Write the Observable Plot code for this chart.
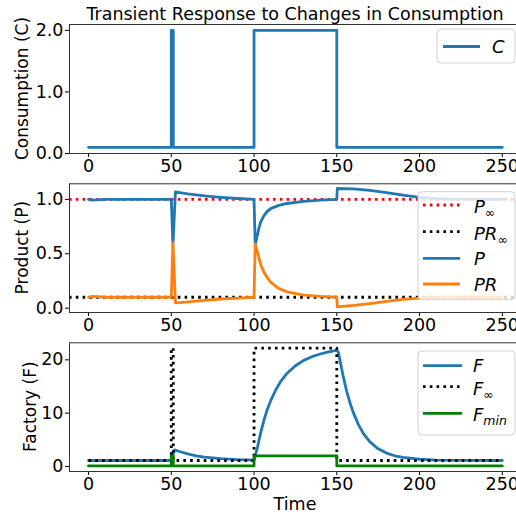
<!DOCTYPE html>
<html><head><meta charset="utf-8">
<script src="https://cdn.jsdelivr.net/npm/d3@7"></script>
<script src="https://cdn.jsdelivr.net/npm/@observablehq/plot@0.6"></script>
<style>
html,body{margin:0;padding:0;background:#fff;overflow:hidden;}
#chart{position:relative;width:516px;height:516px;overflow:hidden;background:#fff;}
#chart svg{position:absolute;left:0;}
</style></head><body><div id="chart"></div>
<script>
const titleText = "Transient Response to Changes in Consumption";
const xTicks = [0, 50, 100, 150, 200, 250];
const xLabel = "Time";
const yLabels = ["Consumption (C)", "Product (P)", "Factory (F)"];

// step inputs
const stepT = [0, 50, 51.2, 100, 150, 250];
const cValues = [0.1, 2.0, 0.1, 2.0, 0.1, 0.1];
const fInfValues = [1.11, 22.2, 1.11, 22.2, 1.11, 1.11];
const fMinValues = [0.1, 2.0, 0.1, 2.0, 0.1, 0.1];

// steady-state product levels
const pInf = 1.0;
const prInf = 0.1;

// product response
const tP = [0,2,5,10,50,51,52.5,55,60,70,80,90,100,100.7,102,103,104,106,108,110,115,120,130,140,150,150.3,160,170,180,190,200,210,220,250];
const pValues = [1.0,0.993,0.995,1.0,1.0,0.58,1.068,1.062,1.05,1.033,1.019,1.008,1.0,0.58,0.67,0.74,0.79,0.85,0.89,0.915,0.945,0.962,0.982,0.993,1.0,1.1,1.096,1.083,1.062,1.038,1.018,1.007,1.002,1.0];
const prValues = [0.1,0.107,0.105,0.1,0.1,0.6,0.048,0.05,0.058,0.072,0.084,0.093,0.1,0.59,0.52,0.46,0.40,0.33,0.28,0.24,0.18,0.15,0.12,0.108,0.1,0.012,0.025,0.042,0.062,0.08,0.093,0.099,0.1,0.1];

// factory response
const tF = [0,50,51,52,55,60,65,70,80,90,100,102,104,106,108,110,113,116,120,125,130,135,140,145,150,151,152,154,156,158,160,163,166,170,175,180,185,190,200,210,230,250];
const fValues = [1.11,1.11,2.2,3.1,2.8,2.35,2.0,1.75,1.45,1.28,1.18,3.5,6.3,8.7,10.7,12.3,14.3,15.9,17.5,18.9,19.9,20.6,21.1,21.5,21.8,21.4,19.8,16.7,14.1,11.9,10.1,7.9,6.2,4.6,3.3,2.5,2.0,1.7,1.35,1.2,1.12,1.11];

const BLUE = "#1f77b4", ORANGE = "#ff7f0e", GREEN = "#008000";
const DOT = "2.6,4.2";
const LW = 2.8;

const zip = (t, v) => t.map((x, i) => ({t: x, v: v[i]}));
const chart = document.getElementById("chart");
const FONT = "DejaVu Sans, sans-serif";

function panel(o) {
  const svg = Plot.plot({
    width: 530, height: o.height,
    marginLeft: 69, marginRight: 9, marginTop: o.mt, marginBottom: o.mb,
    style: {fontFamily: FONT, fontSize: "17.5px", background: "transparent", maxWidth: "none", color: "#000", overflow: "visible"},
    x: {domain: [-11.5, 261.6], ticks: xTicks, tickFormat: "d", tickSize: 4, tickPadding: 2, label: null},
    y: {domain: o.yDomain, ticks: o.yTicks, tickFormat: o.yFmt, tickSize: 4, tickPadding: 2, label: null},
    marks: [...o.marks, Plot.frame({stroke: "#333", strokeWidth: 1})]
  });
  svg.style.top = o.top + "px";
  chart.appendChild(svg);
  const s = d3.select(svg);
  // y label
  const cy = (o.mt + (o.height - o.mb)) / 2;
  s.append("text").attr("transform", `translate(${o.ylx},${cy}) rotate(-90)`)
    .attr("text-anchor", "middle").attr("dominant-baseline", "central")
    .attr("font-family", FONT).attr("font-size", 17).attr("fill", "#000").text(o.ylabel);
  // legend
  const g = s.append("g").attr("text-anchor", "start");
  g.append("rect").attr("x", o.box[0]).attr("y", o.box[1]).attr("width", o.box[2]).attr("height", o.box[3])
    .attr("rx", 4).attr("fill", "white").attr("fill-opacity", 0.8).attr("stroke", "#d0d0d0").attr("stroke-width", 1);
  for (const e of o.legend) {
    g.append("line").attr("x1", o.sx[0]).attr("x2", o.sx[1]).attr("y1", e.y).attr("y2", e.y)
      .attr("stroke", e.stroke).attr("stroke-width", LW)
      .attr("stroke-dasharray", e.dash ? DOT : null).attr("stroke-linecap", "butt");
    const t = g.append("text").attr("x", o.lx).attr("y", e.y + (e.sub ? 8 : 6.5))
      .attr("text-anchor", "start")
      .attr("font-family", FONT).attr("font-style", "italic").attr("font-size", 18).attr("fill", "#000");
    t.append("tspan").text(e.main);
    if (e.sub) t.append("tspan").attr("dy", 4).attr("font-size", 12.5).text(e.sub);
  }
  return s;
}

// Panel 1: consumption
const p1 = panel({
  top: 0, height: 175, mt: 24, mb: 22,
  yDomain: [0, 2.095], yTicks: [0, 1, 2], yFmt: ".1f",
  ylabel: yLabels[0], ylx: 22,
  marks: [Plot.line(zip(stepT, cValues), {x: "t", y: "v", curve: "step-after", stroke: BLUE, strokeWidth: LW})],
  box: [437, 29, 78, 34], sx: [443, 480], lx: 492,
  legend: [{y: 46.5, stroke: BLUE, main: "C"}]
});
p1.append("text").attr("x", 295).attr("y", 20).attr("text-anchor", "middle")
  .attr("font-family", FONT).attr("font-size", 17.5).attr("fill", "#000").text(titleText);

// Panel 2: product
panel({
  top: 175, height: 160, mt: 8.3, mb: 23,
  yDomain: [-0.04, 1.143], yTicks: [0, 0.5, 1], yFmt: ".1f",
  ylabel: yLabels[1], ylx: 22,
  marks: [
    Plot.ruleY([pInf], {stroke: "red", strokeWidth: LW, strokeDasharray: DOT}),
    Plot.ruleY([prInf], {stroke: "black", strokeWidth: LW, strokeDasharray: DOT}),
    Plot.line(zip(tP, pValues), {x: "t", y: "v", stroke: BLUE, strokeWidth: LW}),
    Plot.line(zip(tP, prValues), {x: "t", y: "v", stroke: ORANGE, strokeWidth: LW})
  ],
  box: [418, 16.7, 97, 108], sx: [423, 460], lx: 474,
  legend: [
    {y: 30, stroke: "red", dash: true, main: "P", sub: "∞"},
    {y: 56.7, stroke: "black", dash: true, main: "PR", sub: "∞"},
    {y: 83.3, stroke: BLUE, main: "P"},
    {y: 109, stroke: ORANGE, main: "PR"}
  ]
});

// Panel 3: factory
const p3 = panel({
  top: 335, height: 181, mt: 7.3, mb: 45,
  yDomain: [-0.95, 23.2], yTicks: [0, 10, 20], yFmt: "d",
  ylabel: yLabels[2], ylx: 29.5,
  marks: [
    Plot.line(zip(tF, fValues), {x: "t", y: "v", stroke: BLUE, strokeWidth: LW}),
    Plot.line(zip(stepT, fInfValues), {x: "t", y: "v", curve: "step-after", stroke: "black", strokeWidth: LW, strokeDasharray: DOT, strokeLinecap: "butt"}),
    Plot.line(zip(stepT, fMinValues), {x: "t", y: "v", curve: "step-after", stroke: GREEN, strokeWidth: LW})
  ],
  box: [418, 16, 97, 84], sx: [423, 462], lx: 473,
  legend: [
    {y: 30.7, stroke: BLUE, main: "F"},
    {y: 51.7, stroke: "black", dash: true, main: "F", sub: "∞"},
    {y: 78.3, stroke: GREEN, main: "F", sub: "min"}
  ]
});
p3.append("text").attr("x", 295).attr("y", 175).attr("text-anchor", "middle")
  .attr("font-family", FONT).attr("font-size", 17.5).attr("fill", "#000").text(xLabel);
</script></body></html>
